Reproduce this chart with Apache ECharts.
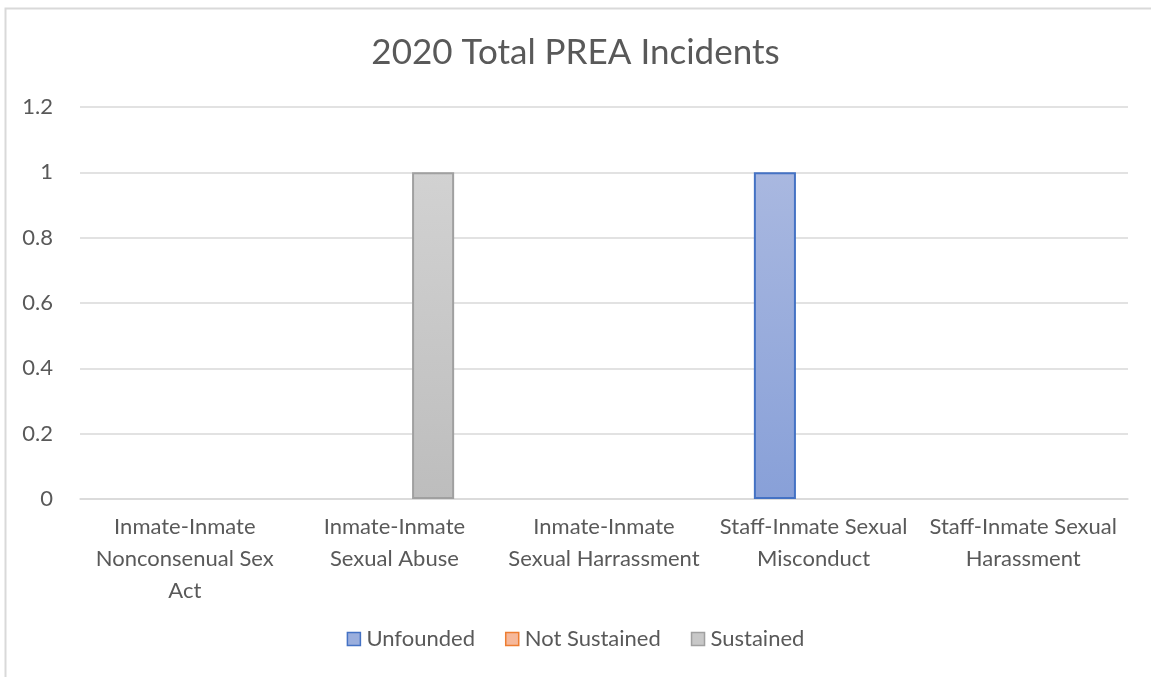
<!DOCTYPE html>
<html>
<head>
<meta charset="utf-8">
<script src="https://cdn.jsdelivr.net/npm/echarts@6/dist/echarts.min.js"></script>
<style>html,body{margin:0;padding:0;background:#fff}#c{width:1151px;height:677px}</style>
</head>
<body>
<div id="c"></div>
<script>
const titleText = '2020 Total PREA Incidents';
const categories = [
  'Inmate-Inmate\nNonconsenual Sex\nAct',
  'Inmate-Inmate\nSexual Abuse',
  'Inmate-Inmate\nSexual Harrassment',
  'Staff-Inmate Sexual\nMisconduct',
  'Staff-Inmate Sexual\nHarassment'
];
const seriesNames = ['Unfounded', 'Not Sustained', 'Sustained'];
const unfounded = [0, 0, 0, 1, 0];
const notSustained = [0, 0, 0, 0, 0];
const sustained = [0, 1, 0, 0, 0];
const yTicks = [0, 0.2, 0.4, 0.6, 0.8, 1, 1.2];

const FONT = 'Lato, "Open Sans", sans-serif';
const TXT = '#595959';
function grad(top, bottom) {
  return new echarts.graphic.LinearGradient(0, 0, 0, 1, [
    {offset: 0, color: top}, {offset: 1, color: bottom}
  ]);
}
const styles = [
  {fill: grad('#a9b8e0', '#88a0d8'), border: '#4472c4', legend: '#9aaedd'},
  {fill: grad('#f8c3a6', '#f4a880'), border: '#ed7d31', legend: '#f6b89a'},
  {fill: grad('#d2d2d2', '#bdbdbd'), border: '#a0a0a0', legend: '#c8c8c8'}
];
const values = [unfounded, notSustained, sustained];

const chart = echarts.init(document.getElementById('c'), null, {renderer: 'canvas'});
chart.setOption({
  animation: false,
  backgroundColor: '#fff',
  graphic: [{
    type: 'rect', shape: {x: 5.5, y: 8.5, width: 1200, height: 700},
    style: {fill: 'none', stroke: '#d9d9d9', lineWidth: 2}, silent: true
  }],
  title: {
    text: titleText, left: 'center', top: 30,
    textStyle: {fontFamily: FONT, fontSize: 35, fontWeight: 'normal', color: TXT}
  },
  legend: {
    bottom: 22, left: 'center', itemWidth: 13, itemHeight: 13, itemGap: 30,
    icon: 'rect',
    textStyle: {fontFamily: FONT, fontSize: 22, color: TXT, padding: [0, 0, 0, 1]},
    data: seriesNames.map((n, i) => ({name: n, itemStyle: {color: styles[i].legend, borderColor: styles[i].border, borderWidth: 1.5}}))
  },
  grid: {left: 80, right: 23, top: 107, bottom: 178},
  xAxis: {
    type: 'category', data: categories,
    axisLine: {lineStyle: {color: '#d9d9d9', width: 1.5}},
    axisTick: {show: false},
    axisLabel: {fontFamily: FONT, fontSize: 22, color: TXT, lineHeight: 32, margin: 12, interval: 0}
  },
  yAxis: {
    type: 'value', min: 0, max: 1.2, interval: 0.2,
    axisLine: {show: false}, axisTick: {show: false},
    splitLine: {lineStyle: {color: '#d9d9d9', width: 1.5}},
    axisLabel: {fontFamily: FONT, fontSize: 22, color: TXT, margin: 27,
      formatter: v => { const t = yTicks.find(x => Math.abs(x - v) < 1e-9); return t === undefined ? '' : String(t); }}
  },
  series: seriesNames.map((n, i) => ({
    name: n, type: 'bar', barGap: '-8%', barCategoryGap: '43%',
    data: values[i].map(v => v === 0 ? null : v),
    itemStyle: {color: styles[i].fill, borderColor: styles[i].border, borderWidth: 2}
  }))
});
</script>
</body>
</html>
